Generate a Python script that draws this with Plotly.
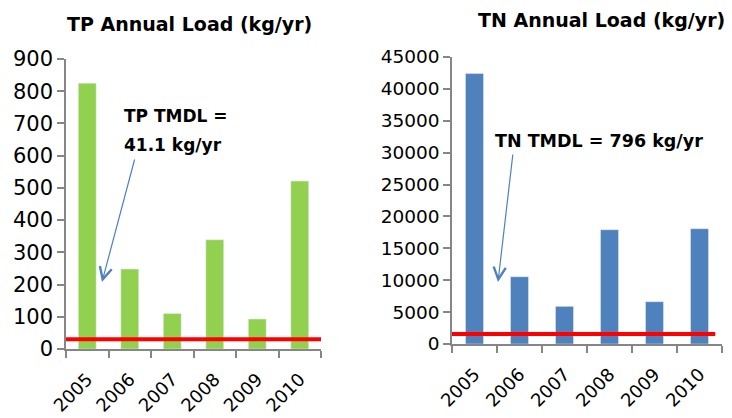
import plotly.graph_objects as go

years = ["2005", "2006", "2007", "2008", "2009", "2010"]
tp_load = [825, 248, 110, 339, 93, 521]
tn_load = [42400, 10550, 5900, 17920, 6630, 18080]
tp_tmdl_line = 30
tn_tmdl_line = 1570

W, H = 732, 418
fig = go.Figure()
fig.add_trace(go.Bar(x=years, y=tp_load, marker_color="#92D050", width=0.42,
                     xaxis="x", yaxis="y", showlegend=False))
fig.add_trace(go.Bar(x=years, y=tn_load, marker_color="#4F81BD", width=0.4,
                     xaxis="x2", yaxis="y2", showlegend=False))

axcol = "#868686"
tickfont_l = dict(family="DejaVu Sans", size=21, color="#000")
tickfont_r = dict(family="DejaVu Sans", size=18.5, color="#000")
xfont = dict(family="DejaVu Sans", size=18, color="#000")

def xax(dom):
    return dict(domain=dom, type="category", showline=True, linecolor=axcol, linewidth=1.5,
                ticks="outside", tickson="boundaries", ticklen=7, tickcolor=axcol,
                tickwidth=1.5, tickangle=-45, tickfont=xfont, showgrid=False, zeroline=False,
                automargin=False, ticklabelstandoff=11)

def yax(dom, rng, dt, anchor, tf):
    return dict(domain=dom, range=rng, dtick=dt, showline=True, linecolor=axcol, linewidth=1.5,
                ticks="outside", ticklen=7, tickcolor=axcol, tickwidth=1.5, tickfont=tf,
                showgrid=False, zeroline=False, anchor=anchor, tickformat="d",
                automargin=False)

fig.update_layout(
    width=W, height=H, margin=dict(l=0, r=0, t=0, b=0),
    paper_bgcolor="white", plot_bgcolor="white",
    xaxis=dict(xax([66 / W, 321 / W]), anchor="y"),
    yaxis=yax([1 - 349 / H, 1 - 59 / H], [0, 900], 100, "x", tickfont_l),
    xaxis2=dict(xax([452 / W, 722 / W]), anchor="y2"),
    yaxis2=yax([1 - 344 / H, 1 - 57 / H], [0, 45000], 5000, "x2", tickfont_r),
)

fig.add_shape(type="line", xref="x domain", yref="y", x0=0, x1=1,
              y0=tp_tmdl_line, y1=tp_tmdl_line, line=dict(color="#FF0000", width=4))
fig.add_shape(type="line", xref="x2 domain", yref="y2", x0=0, x1=0.975,
              y0=tn_tmdl_line, y1=tn_tmdl_line, line=dict(color="#FF0000", width=4))

bold = dict(family="DejaVu Sans", size=17, color="#000")
title_font = dict(family="DejaVu Sans", size=19, color="#000")
fig.add_annotation(text="<b>TP Annual Load (kg/yr)</b>", xref="paper", yref="paper",
                   x=189 / W, y=1 - 24 / H, showarrow=False, xanchor="center", yanchor="middle",
                   font=title_font)
fig.add_annotation(text="<b>TN Annual Load (kg/yr)</b>", xref="paper", yref="paper",
                   x=601 / W, y=1 - 20 / H, showarrow=False, xanchor="center", yanchor="middle",
                   font=title_font)
fig.add_annotation(text="<b>TP TMDL =</b>", xref="paper", yref="paper",
                   x=122 / W, y=1 - 116 / H, showarrow=False, xanchor="left", yanchor="middle",
                   font=bold)
fig.add_annotation(text="<b>41.1 kg/yr</b>", xref="paper", yref="paper",
                   x=122 / W, y=1 - 145 / H, showarrow=False, xanchor="left", yanchor="middle",
                   font=bold)
fig.add_annotation(text="<b>TN TMDL = 796 kg/yr</b>", xref="paper", yref="paper",
                   x=493 / W, y=1 - 141 / H, showarrow=False, xanchor="left", yanchor="middle",
                   font=dict(bold, size=17.5))
fig.add_annotation(text="", xref="paper", yref="paper", x=102 / W, y=1 - 282 / H,
                   ax=33, ay=-124, showarrow=True, arrowhead=5, arrowsize=2,
                   arrowwidth=1.2, arrowcolor="#4F81BD", standoff=0)
fig.add_annotation(text="", xref="paper", yref="paper", x=498 / W, y=1 - 282 / H,
                   ax=15, ay=-129, showarrow=True, arrowhead=5, arrowsize=2,
                   arrowwidth=1.2, arrowcolor="#4F81BD", standoff=0)

fig.write_html("out.html", config={"displayModeBar": False},
               post_script="document.body.style.margin='0';")
